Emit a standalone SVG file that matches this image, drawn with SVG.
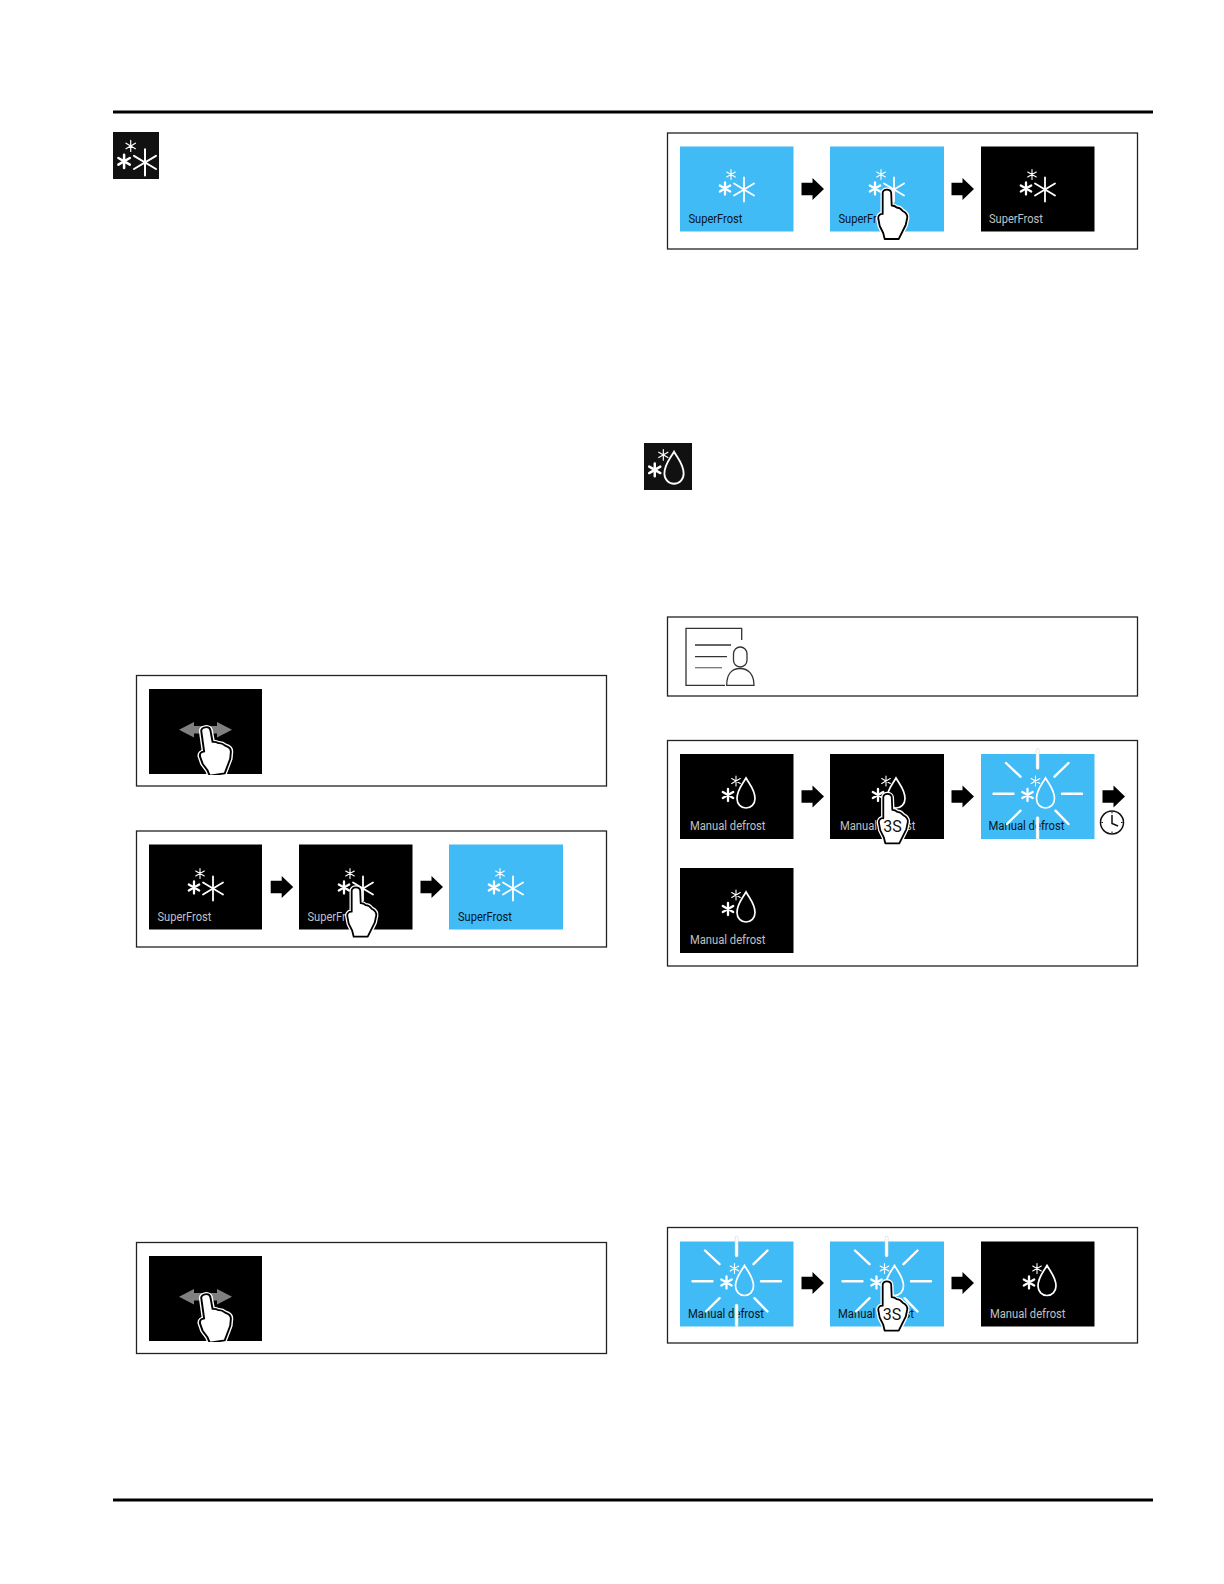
<svg xmlns="http://www.w3.org/2000/svg" width="1224" height="1584" viewBox="0 0 1224 1584">
<style>
.rule{fill:#000}
.frame{fill:#fff;stroke:#222;stroke-width:1.3}
.k{fill:#000}.b{fill:#41bbf5}.ik{fill:#111}
.lk{font:12px Roboto,"Liberation Sans",sans-serif;fill:#c0c0c0}
.lb{font:12px Roboto,"Liberation Sans",sans-serif;fill:#06141c}
.s3{font:16px Roboto,"Liberation Sans",sans-serif;fill:#111;text-anchor:middle}
.ico{fill:none;stroke:#fff;stroke-linecap:round}
.doc{fill:none;stroke:#333;stroke-width:1.3}
</style>
<defs>
<g id="snow" class="ico">
<path stroke-width="1.100" d="M51 24V34M46.700 26.500L55.300 31.500M46.700 31.500L55.300 26.500"/>
<path stroke-width="2.300" d="M45 37V49M39.800 40L50.200 46M39.800 46L50.200 40"/>
<path stroke-width="1.800" d="M64 32V56M54 38L74 50M54 50L74 38"/>
</g>
<g id="drop" class="ico">
<path stroke-width="1.100" d="M56 22V32M51.700 24.500L60.300 29.500M51.700 29.500L60.300 24.500"/>
<path stroke-width="2.300" d="M48 35V47M42.800 38L53.200 44M42.800 44L53.200 38"/>
<path stroke-width="1.700" d="M66 24C62 31 57 36 57 44.500C57 50 61 54 66 54C71 54 75 50 75 44.500C75 36 70 31 66 24Z"/>
</g>
<g id="rays" class="ico">
<path stroke="#cfd6da" stroke-width="3.600" d="M56.600 -4V14M56.600 64V84"/>
<path stroke-width="2.400" d="M56.600 -4V14M56.600 64V84M12.500 39.700H32.500M81 39.700H101M25 9L39.500 22.700M87.500 9L73.500 22.700M39.500 56.700L26 70M74.500 56.700L87.500 70"/>
</g>
<path id="handp" d="M-4 4C-4 -0.500 4 -0.500 4.500 4L5 16.500C7 16.500 9 17.500 10 18.500C12 18.500 14.500 20 16 22C19 23.500 21 26 20.500 29L19 36L12 50L-2 50L-3.500 44L-7 37L-8.500 29C-8.500 26 -6 24.500 -4 25Z"/>
<g id="hand">
<use href="#handp" fill="none" stroke="#fff" stroke-width="4.400" stroke-linejoin="round"/>
<use href="#handp" fill="#fff" stroke="#000" stroke-width="1.800" stroke-linejoin="round"/>
</g>
<path id="arrow" d="M0 -6.200H11V-11L22.500 0L11 11V6.200H0Z" fill="#000"/>
<path id="swipe" d="M179 729.700L194 722V726H217V722L232 729.700L217 737.500V733.500H194V737.500Z" fill="#808080"/>
<clipPath id="swclip"><rect x="149" y="680" width="113" height="95"/></clipPath>
</defs>
<rect width="1224" height="1584" fill="#fff"/>
<rect class="rule" x="113" y="110.500" width="1040" height="3"/>
<rect class="rule" x="113" y="1498.500" width="1040" height="3"/>

<g id="icon-superfrost"><rect class="ik" x="113" y="132" width="46" height="47"/><use href="#snow" transform="translate(74.600 114) scale(1.100)"/></g>
<g id="icon-defrost"><rect class="ik" x="644" y="443" width="48" height="47"/><use href="#drop" transform="translate(603.400 426) scale(1.070)"/></g>

<g id="panel-swipe-1"><rect class="frame" x="136.500" y="675.500" width="470" height="110.500"/>
<rect class="k" x="149" y="689" width="113" height="85"/><use href="#swipe"/><g clip-path="url(#swclip)"><use href="#hand" transform="translate(205 726.700) rotate(-8) scale(1.080 .98)"/></g></g>

<g id="panel-on">
<rect class="frame" x="136.500" y="831" width="470" height="116"/>
<g id="on-1"><rect class="k" x="149" y="844.500" width="113" height="85"/><use href="#snow" x="149" y="844.500"/><text class="lk" x="157.500" y="921" textLength="54" lengthAdjust="spacingAndGlyphs">SuperFrost</text></g>
<g id="on-2"><rect class="k" x="299" y="844.500" width="113.500" height="85"/><use href="#snow" x="299" y="844.500"/><text class="lk" x="307.500" y="921" textLength="54" lengthAdjust="spacingAndGlyphs">SuperFrost</text><use href="#hand" transform="translate(355.700 886.700)"/></g>
<g id="on-3"><rect class="b" x="449" y="844.500" width="114" height="85"/><use href="#snow" x="449" y="844.500"/><text class="lb" x="458" y="921" textLength="54" lengthAdjust="spacingAndGlyphs">SuperFrost</text></g>
</g>

<g id="panel-swipe-2"><rect class="frame" x="136.500" y="1242.500" width="470" height="111"/>
<g transform="translate(0 567)"><rect class="k" x="149" y="689" width="113" height="85"/><use href="#swipe"/><g clip-path="url(#swclip)"><use href="#hand" transform="translate(205 726.700) rotate(-8) scale(1.080 .98)"/></g></g></g>

<g id="panel-off">
<rect class="frame" x="667.500" y="133" width="470" height="116"/>
<g id="off-1"><rect class="b" x="680" y="146.500" width="113.500" height="85"/><use href="#snow" x="680" y="145.500"/><text class="lb" x="688.500" y="223" textLength="54" lengthAdjust="spacingAndGlyphs">SuperFrost</text></g>
<g id="off-2"><rect class="b" x="830" y="146.500" width="114" height="85"/><use href="#snow" x="830" y="145.500"/><text class="lb" x="838.500" y="223" textLength="54" lengthAdjust="spacingAndGlyphs">SuperFrost</text><use href="#hand" transform="translate(886.700 189)"/></g>
<g id="off-3"><rect class="k" x="981" y="146.500" width="113.500" height="85"/><use href="#snow" x="981" y="145.500"/><text class="lk" x="989" y="223" textLength="54" lengthAdjust="spacingAndGlyphs">SuperFrost</text></g>
</g>

<g id="panel-info"><rect class="frame" x="667.500" y="617" width="470" height="79"/>
<path class="doc" d="M741.700 640V628.300H686V685.300H725M695 645H731M695 656.700H727"/>
<path d="M695 667.700H722" fill="none" stroke="#777" stroke-width="1.300"/>
<rect class="doc" x="733.500" y="647" width="13.500" height="20" rx="6.700"/>
<path class="doc" d="M726.700 685.300C726.700 674 732 668.500 740 668.500C748 668.500 754 674 754 685.300Z"/></g>

<g id="panel-defrost-start">
<rect class="frame" x="667.500" y="740.500" width="470" height="225.500"/>
<g id="ds-1"><rect class="k" x="680" y="754" width="113.500" height="85"/><use href="#drop" x="680" y="754"/><text class="lk" x="690" y="830" textLength="75.500" lengthAdjust="spacingAndGlyphs">Manual defrost</text></g>
<g id="ds-2"><rect class="k" x="830" y="754" width="114" height="85"/><use href="#drop" x="830" y="754"/><text class="lk" x="840" y="830" textLength="75.500" lengthAdjust="spacingAndGlyphs">Manual defrost</text><use href="#hand" transform="translate(887.300 793.300)"/><text class="s3" x="892.500" y="832">3S</text></g>
<g id="ds-3"><rect class="b" x="981" y="754" width="113.500" height="85"/><text class="lb" x="988.500" y="830" textLength="76" lengthAdjust="spacingAndGlyphs">Manual defrost</text><use href="#drop" x="979.500" y="754"/><use href="#rays" x="981" y="754"/></g>
<g id="clock"><circle cx="1112" cy="822.500" r="11.500" fill="#fff" stroke="#111" stroke-width="1.500"/><path d="M1112 815V823.500L1118 826" fill="none" stroke="#111" stroke-width="1.500"/><path d="M1112 812V813.500M1112 831.500V833M1101.500 822.500H1103M1121 822.500H1122.500" stroke="#111"/></g>
<g id="ds-4"><rect class="k" x="680" y="868" width="113.500" height="85"/><use href="#drop" x="680" y="868"/><text class="lk" x="690" y="944" textLength="75.500" lengthAdjust="spacingAndGlyphs">Manual defrost</text></g>
</g>

<g id="panel-defrost-stop">
<rect class="frame" x="667.500" y="1227.500" width="470" height="115.500"/>
<g id="de-1"><rect class="b" x="680" y="1241.500" width="113.500" height="85"/><text class="lb" x="688" y="1318" textLength="76" lengthAdjust="spacingAndGlyphs">Manual defrost</text><use href="#drop" x="678.500" y="1241.500"/><use href="#rays" x="680" y="1241.500"/></g>
<g id="de-2"><rect class="b" x="830" y="1241.500" width="114" height="85"/><text class="lb" x="838" y="1318" textLength="76" lengthAdjust="spacingAndGlyphs">Manual defrost</text><use href="#drop" x="828.500" y="1241.500"/><use href="#rays" x="830" y="1241.500"/><use href="#hand" transform="translate(886.700 1280.700)"/><text class="s3" x="892" y="1319.500">3S</text></g>
<g id="de-3"><rect class="k" x="981" y="1241.500" width="113.500" height="85"/><use href="#drop" x="981" y="1241.500"/><text class="lk" x="990" y="1318" textLength="75.500" lengthAdjust="spacingAndGlyphs">Manual defrost</text></g>
</g>

<g id="connectors">
<use href="#arrow" x="270.700" y="887"/>
<use href="#arrow" x="420.500" y="887"/>
<use href="#arrow" x="801.500" y="189"/>
<use href="#arrow" x="951.500" y="189"/>
<use href="#arrow" x="801.500" y="796.500"/>
<use href="#arrow" x="951.500" y="796.500"/>
<use href="#arrow" x="1102.500" y="796.500"/>
<use href="#arrow" x="801.500" y="1283"/>
<use href="#arrow" x="951.500" y="1283"/>
</g>
</svg>
